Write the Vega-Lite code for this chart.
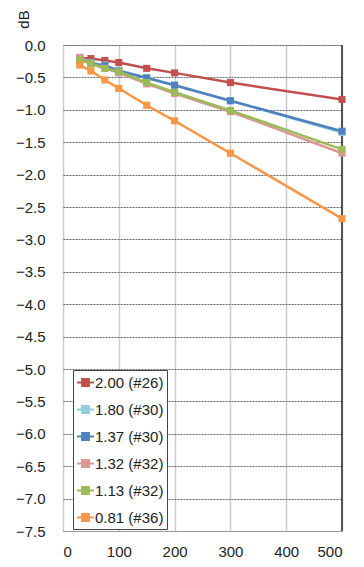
{
  "$schema": "https://vega.github.io/schema/vega-lite/v6.json",
  "width": 279,
  "height": 486,
  "autosize": {"type": "none"},
  "padding": {"left": 63, "top": 45, "right": 22, "bottom": 36},
  "background": "white",
  "config": {
    "font": "Liberation Sans",
    "view": {"stroke": "#c0c0c0", "strokeWidth": 1}
  },
  "data": {
    "values": [
      {"x": 30, "dB": -0.20, "s": "2.00 (#26)"},
      {"x": 50, "dB": -0.21, "s": "2.00 (#26)"},
      {"x": 75, "dB": -0.24, "s": "2.00 (#26)"},
      {"x": 100, "dB": -0.27, "s": "2.00 (#26)"},
      {"x": 150, "dB": -0.36, "s": "2.00 (#26)"},
      {"x": 200, "dB": -0.43, "s": "2.00 (#26)"},
      {"x": 300, "dB": -0.58, "s": "2.00 (#26)"},
      {"x": 500, "dB": -0.84, "s": "2.00 (#26)"},
      {"x": 30, "dB": -0.20, "s": "1.80 (#30)"},
      {"x": 50, "dB": -0.27, "s": "1.80 (#30)"},
      {"x": 75, "dB": -0.31, "s": "1.80 (#30)"},
      {"x": 100, "dB": -0.39, "s": "1.80 (#30)"},
      {"x": 150, "dB": -0.50, "s": "1.80 (#30)"},
      {"x": 200, "dB": -0.62, "s": "1.80 (#30)"},
      {"x": 300, "dB": -0.86, "s": "1.80 (#30)"},
      {"x": 500, "dB": -1.35, "s": "1.80 (#30)"},
      {"x": 30, "dB": -0.21, "s": "1.37 (#30)"},
      {"x": 50, "dB": -0.28, "s": "1.37 (#30)"},
      {"x": 75, "dB": -0.32, "s": "1.37 (#30)"},
      {"x": 100, "dB": -0.40, "s": "1.37 (#30)"},
      {"x": 150, "dB": -0.51, "s": "1.37 (#30)"},
      {"x": 200, "dB": -0.62, "s": "1.37 (#30)"},
      {"x": 300, "dB": -0.86, "s": "1.37 (#30)"},
      {"x": 500, "dB": -1.33, "s": "1.37 (#30)"},
      {"x": 30, "dB": -0.19, "s": "1.32 (#32)"},
      {"x": 50, "dB": -0.29, "s": "1.32 (#32)"},
      {"x": 75, "dB": -0.36, "s": "1.32 (#32)"},
      {"x": 100, "dB": -0.43, "s": "1.32 (#32)"},
      {"x": 150, "dB": -0.60, "s": "1.32 (#32)"},
      {"x": 200, "dB": -0.75, "s": "1.32 (#32)"},
      {"x": 300, "dB": -1.03, "s": "1.32 (#32)"},
      {"x": 500, "dB": -1.67, "s": "1.32 (#32)"},
      {"x": 30, "dB": -0.23, "s": "1.13 (#32)"},
      {"x": 50, "dB": -0.29, "s": "1.13 (#32)"},
      {"x": 75, "dB": -0.36, "s": "1.13 (#32)"},
      {"x": 100, "dB": -0.41, "s": "1.13 (#32)"},
      {"x": 150, "dB": -0.58, "s": "1.13 (#32)"},
      {"x": 200, "dB": -0.73, "s": "1.13 (#32)"},
      {"x": 300, "dB": -1.01, "s": "1.13 (#32)"},
      {"x": 500, "dB": -1.61, "s": "1.13 (#32)"},
      {"x": 30, "dB": -0.31, "s": "0.81 (#36)"},
      {"x": 50, "dB": -0.40, "s": "0.81 (#36)"},
      {"x": 75, "dB": -0.54, "s": "0.81 (#36)"},
      {"x": 100, "dB": -0.67, "s": "0.81 (#36)"},
      {"x": 150, "dB": -0.93, "s": "0.81 (#36)"},
      {"x": 200, "dB": -1.17, "s": "0.81 (#36)"},
      {"x": 300, "dB": -1.67, "s": "0.81 (#36)"},
      {"x": 500, "dB": -2.68, "s": "0.81 (#36)"}
    ]
  },
  "encoding": {
    "x": {
      "field": "x", "type": "quantitative",
      "scale": {"domain": [0, 500], "nice": false},
      "axis": {
        "values": [0, 100, 200, 300, 400, 500],
        "title": null, "ticks": false, "domain": true, "domainColor": "#999999",
        "labelFontSize": 15, "labelColor": "#222222", "labelPadding": 13,
        "grid": true, "gridColor": "#cccccc", "gridWidth": 1.5
      }
    },
    "y": {
      "field": "dB", "type": "quantitative",
      "scale": {"domain": [-7.5, 0], "nice": false, "zero": false},
      "axis": {
        "values": [0, -0.5, -1, -1.5, -2, -2.5, -3, -3.5, -4, -4.5, -5, -5.5, -6, -6.5, -7, -7.5],
        "format": ".1f",
        "title": "dB", "titleAngle": -90, "titleX": -40, "titleY": -26,
        "titleAlign": "center", "titleBaseline": "middle",
        "titleFontSize": 15, "titleFontWeight": "normal", "titleColor": "#222222",
        "ticks": false, "domain": false,
        "labelFontSize": 15, "labelColor": "#222222", "labelPadding": 18,
        "grid": true, "gridColor": "#666666", "gridDash": [2, 1], "gridWidth": 1
      }
    },
    "color": {
      "field": "s", "type": "nominal",
      "scale": {
        "domain": ["2.00 (#26)", "1.80 (#30)", "1.37 (#30)", "1.32 (#32)", "1.13 (#32)", "0.81 (#36)"],
        "range": ["#C0504D", "#93CDDD", "#4F81BD", "#D99795", "#9BBB59", "#F79646"]
      },
      "legend": {
        "title": null, "orient": "none", "legendX": 10, "legendY": 325,
        "strokeColor": "#444444", "fillColor": "white", "padding": 3,
        "labelFontSize": 15, "labelColor": "#222222", "labelOffset": 0,
        "rowPadding": 9,
        "symbolType": "M-1,0L1,0M-0.4,-0.4L0.4,-0.4L0.4,0.4L-0.4,0.4Z",
        "symbolSize": 289, "symbolStrokeWidth": 2
      }
    }
  },
  "layer": [
    {
      "mark": {"type": "rule", "color": "#555555", "strokeWidth": 1.5},
      "encoding": {"x": {"datum": 500}, "color": {"value": "#555555"}, "y": {"datum": 0}, "y2": {"datum": -7.5}}
    },
    {
      "mark": {"type": "line", "strokeWidth": 2.5},
      "encoding": {"order": {"field": "x"}}
    },
    {
      "mark": {"type": "point", "shape": "square", "filled": true, "opacity": 1, "size": 50}
    }
  ]
}
